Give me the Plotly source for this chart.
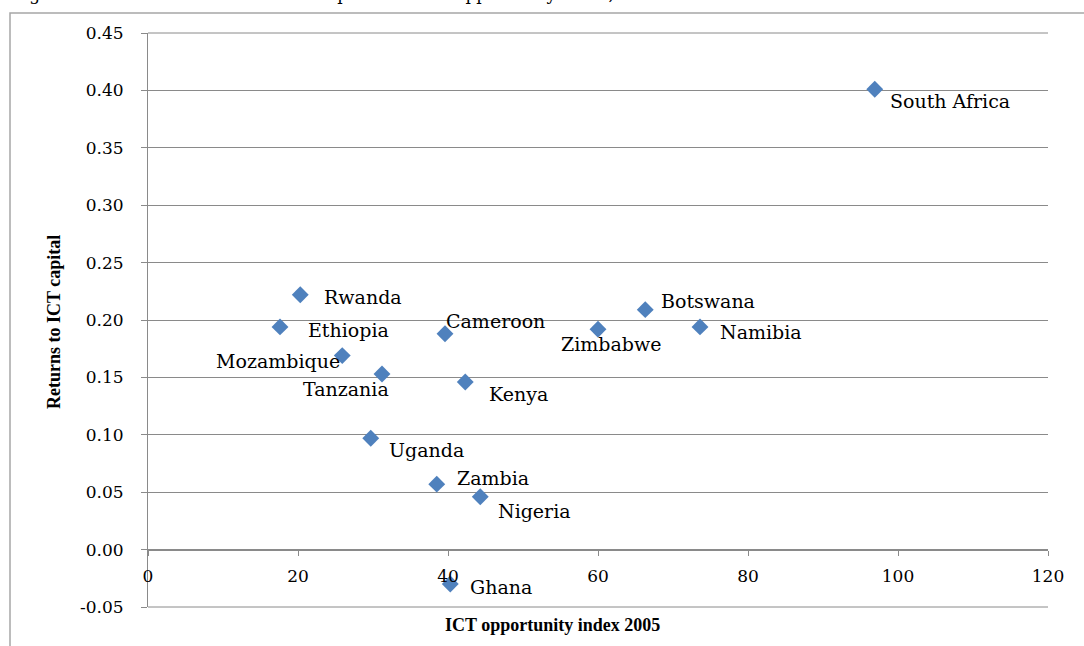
import plotly.graph_objects as go

# ---- data ----
countries = ["South Africa", "Rwanda", "Ethiopia", "Mozambique", "Tanzania", "Cameroon",
             "Kenya", "Uganda", "Zambia", "Nigeria", "Ghana", "Zimbabwe", "Botswana", "Namibia"]
ict_opportunity = [96.9, 20.3, 17.6, 25.9, 31.2, 39.6, 42.3, 29.7, 38.5, 44.3, 40.3, 60.0, 66.3, 73.6]
returns_ict = [0.401, 0.222, 0.194, 0.169, 0.153, 0.188, 0.146, 0.097, 0.057, 0.046, -0.030, 0.192, 0.209, 0.194]
x_ticks = [0, 20, 40, 60, 80, 100, 120]
y_ticks = [-0.05, 0.00, 0.05, 0.10, 0.15, 0.20, 0.25, 0.30, 0.35, 0.40, 0.45]

# ---- label placement (style only) : (xanchor, xshift px, yshift px) ----
label_style = {
    "South Africa": ("left", 13, -12),
    "Rwanda": ("left", 22, -2),
    "Ethiopia": ("left", 26, -3),
    "Mozambique": ("right", 0, -5),
    "Tanzania": ("center", -36, -15),
    "Cameroon": ("left", -1, 13),
    "Kenya": ("left", 22, -12),
    "Uganda": ("left", 16, -12),
    "Zambia": ("left", 18, 6),
    "Nigeria": ("left", 16, -14),
    "Ghana": ("left", 18, -3),
    "Zimbabwe": ("center", 13, -15),
    "Botswana": ("left", 14, 9),
    "Namibia": ("left", 18, -5),
}

W, H = 1084, 646
L, R, T, B = 148, 36, 33, 39
PW, PH = W - L - R, H - T - B


def px_x(p):
    return (p - L) / PW


def px_y(p):
    return (H - B - p) / PH


grid_col = "#8a8a8a"
tick_font = dict(family="DejaVu Serif", size=17, color="#000000")
label_font = dict(family="DejaVu Serif", size=19, color="#000000")

fig = go.Figure()
fig.add_trace(go.Scatter(
    x=ict_opportunity, y=returns_ict, mode="markers",
    marker=dict(symbol="diamond", size=13, color="#4F81BD", line=dict(width=0)),
    showlegend=False, hoverinfo="x+y", cliponaxis=False,
))

annotations = []
for name, xv, yv in zip(countries, ict_opportunity, returns_ict):
    anc, xs, ys = label_style[name]
    annotations.append(dict(
        x=xv, y=yv, xref="x", yref="y", text=name, showarrow=False,
        xanchor=anc, yanchor="middle", xshift=xs, yshift=ys, font=label_font,
    ))

# axis titles
annotations.append(dict(
    x=px_x(552), y=px_y(625), xref="paper", yref="paper",
    text="<b>ICT opportunity index 2005</b>", showarrow=False,
    xanchor="center", yanchor="middle",
    font=dict(family="Liberation Serif", size=18, color="#000000"),
))
annotations.append(dict(
    x=px_x(54), y=px_y(322), xref="paper", yref="paper",
    text="<b>Returns to ICT capital</b>", showarrow=False, textangle=-90,
    xanchor="center", yanchor="middle",
    font=dict(family="Liberation Serif", size=18, color="#000000"),
))
# partially visible caption at the very top (cut off, as in the reference)
annotations.append(dict(
    x=px_x(10), y=px_y(6), xref="paper", yref="paper",
    text="Figure 5: Estimated returns to ICT capital and ICT opportunity index, 2005",
    showarrow=False, xanchor="left", yanchor="bottom",
    font=dict(family="DejaVu Serif", size=17, color="#000000"),
))

shapes = [dict(
    type="rect", xref="paper", yref="paper",
    x0=px_x(10), x1=px_x(1110), y0=px_y(670), y1=px_y(13),
    line=dict(color="#a6a6a6", width=1.5), fillcolor="rgba(0,0,0,0)", layer="below",
)]
# gridlines at the two ends of the plot area (Plotly omits them)
for yp in (0, 1):
    shapes.append(dict(
        type="line", xref="paper", yref="paper", x0=0, x1=1, y0=yp, y1=yp,
        line=dict(color=grid_col, width=1), layer="above",
    ))

fig.update_layout(
    width=W, height=H,
    margin=dict(l=L, r=R, t=T, b=B),
    paper_bgcolor="white", plot_bgcolor="white",
    annotations=annotations, shapes=shapes,
    xaxis=dict(
        range=[0, 120], tickvals=x_ticks, ticktext=[str(v) for v in x_ticks],
        showgrid=False, zeroline=False, showline=True, linecolor=grid_col, linewidth=1,
        ticks="outside", ticklen=5, tickcolor=grid_col,
        anchor="free", position=0.1, tickfont=tick_font, ticklabelstandoff=6,
    ),
    yaxis=dict(
        range=[-0.05, 0.45], tickvals=y_ticks, ticktext=[f"{v:.2f}" for v in y_ticks],
        showgrid=True, gridcolor=grid_col, gridwidth=1, zeroline=False,
        showline=True, linecolor=grid_col, linewidth=1,
        ticks="outside", ticklen=6, tickcolor=grid_col,
        tickfont=tick_font, ticklabelstandoff=14,
    ),
)

fig.write_html(
    "out.html",
    config={"displayModeBar": False},
    post_script="document.body.style.margin='0';document.body.style.overflow='hidden';",
)
